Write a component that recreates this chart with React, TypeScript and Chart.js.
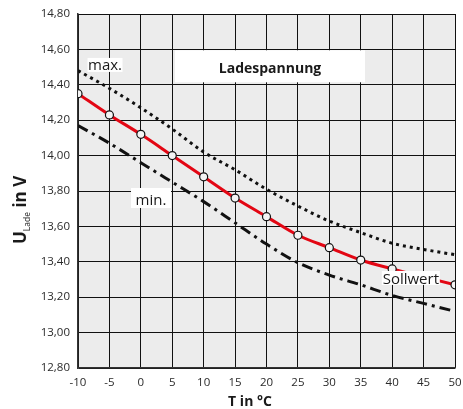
import React, { useEffect, useRef } from "react";
import { Chart, registerables } from "chart.js";

Chart.register(...registerables);

// ---- data ----
const temperatures = [-10, -5, 0, 5, 10, 15, 20, 25, 30, 35, 40, 45, 50];
const sollwert = [14.35, 14.23, 14.12, 14.0, 13.88, 13.76, 13.655, 13.55, 13.48, 13.41, 13.36, 13.315, 13.27];
const maxValues = [14.48, 14.38, 14.27, 14.15, 14.02, 13.92, 13.81, 13.715, 13.63, 13.565, 13.505, 13.47, 13.44];
const minValues = [14.17, 14.07, 13.96, 13.85, 13.74, 13.62, 13.5, 13.395, 13.325, 13.27, 13.21, 13.165, 13.12];
const xTicks = [-10, -5, 0, 5, 10, 15, 20, 25, 30, 35, 40, 45, 50];
const yTicks = [12.8, 13.0, 13.2, 13.4, 13.6, 13.8, 14.0, 14.2, 14.4, 14.6, 14.8];

const chartTitle = "Ladespannung";
const xTitle = "T in °C";
const yTitleMain = "U";
const yTitleSub = "Lade";
const yTitleRest = " in V";

// text labels placed in data coordinates (baseline centre)
const labels = [
  { text: "max.", x: -5.7, y: 14.484, font: "15px 'Open Sans'", w: 35, top: 12, bottom: 2 },
  { text: "min.", x: 1.62, y: 13.721, font: "15px 'Open Sans'", w: 40, top: 17, bottom: 3 },
  { text: "Sollwert", x: 42.97, y: 13.275, font: "15px 'Open Sans'", w: 58, top: 13, bottom: 1 },
  { text: chartTitle, x: 20.56, y: 14.465, font: "bold 14px 'Open Sans'", w: 190, top: 23, bottom: 9 },
];

export default function App() {
  const ref = useRef<HTMLCanvasElement>(null);

  useEffect(() => {
    document.body.style.margin = "0";
    const canvas = ref.current;
    if (!canvas) return;

    const bgPlugin = {
      id: "plotBg",
      beforeDraw(chart: any) {
        const { ctx, chartArea: a } = chart;
        ctx.save();
        ctx.fillStyle = "#ececec";
        ctx.fillRect(a.left, a.top, a.right - a.left, a.bottom - a.top);
        ctx.restore();
      },
    };

    const labelPlugin = {
      id: "labels",
      afterDatasetsDraw(chart: any) {
        const { ctx } = chart;
        const xs = chart.scales.x;
        const ys = chart.scales.y;
        ctx.save();
        labels.forEach((l) => {
          const px = xs.getPixelForValue(l.x);
          const py = ys.getPixelForValue(l.y);
          ctx.fillStyle = "#ffffff";
          ctx.fillRect(px - l.w / 2, py - l.top, l.w, l.top + l.bottom);
          ctx.font = l.font;
          ctx.fillStyle = "#1a1a1a";
          ctx.textAlign = "center";
          ctx.textBaseline = "alphabetic";
          ctx.fillText(l.text, px, py);
        });
        ctx.restore();
      },
    };

    const titlePlugin = {
      id: "axisTitles",
      afterDraw(chart: any) {
        const { ctx, chartArea: a } = chart;
        ctx.save();
        ctx.fillStyle = "#1a1a1a";
        // x title
        ctx.font = "bold 14px 'Open Sans'";
        ctx.textAlign = "center";
        ctx.textBaseline = "alphabetic";
        ctx.fillText(xTitle, 250, a.bottom + 38);
        // y title (rotated)
        ctx.translate(26, 244);
        ctx.rotate(-Math.PI / 2);
        ctx.textAlign = "left";
        let x = 0;
        ctx.font = "bold 17px 'Open Sans'";
        ctx.fillText(yTitleMain, x, 0);
        x += ctx.measureText(yTitleMain).width;
        ctx.font = "8.5px 'Open Sans'";
        ctx.fillText(yTitleSub, x, 4);
        x += ctx.measureText(yTitleSub).width;
        ctx.font = "bold 17px 'Open Sans'";
        ctx.fillText(yTitleRest, x, 0);
        ctx.restore();
      },
    };

    const chart = new Chart(canvas, {
      type: "line",
      data: {
        labels: temperatures,
        datasets: [
          {
            label: "max.",
            data: temperatures.map((t, i) => ({ x: t, y: maxValues[i] })),
            borderColor: "#111111",
            borderWidth: 3,
            borderDash: [3, 4],
            pointRadius: 0,
            cubicInterpolationMode: "monotone",
            fill: false,
          },
          {
            label: "min.",
            data: temperatures.map((t, i) => ({ x: t, y: minValues[i] })),
            borderColor: "#111111",
            borderWidth: 3,
            borderDash: [11, 5, 3, 5],
            pointRadius: 0,
            cubicInterpolationMode: "monotone",
            fill: false,
          },
          {
            label: "Sollwert",
            data: temperatures.map((t, i) => ({ x: t, y: sollwert[i] })),
            borderColor: "#e30613",
            borderWidth: 3,
            pointRadius: 4,
            pointBackgroundColor: "#f4f4f4",
            pointBorderColor: "#111111",
            pointBorderWidth: 1.2,
            cubicInterpolationMode: "monotone",
            fill: false,
          },
        ],
      },
      options: {
        animation: false,
        responsive: false,
        devicePixelRatio: 1,
        layout: { padding: { top: 14, right: 8, left: 0, bottom: 0 } },
        plugins: {
          legend: { display: false },
          tooltip: { enabled: false },
          title: { display: false },
        },
        scales: {
          x: {
            type: "linear",
            min: -10,
            max: 50,
            afterBuildTicks: (scale: any) => {
              scale.ticks = xTicks.map((v) => ({ value: v }));
            },
            afterFit: (scale: any) => {
              scale.height = 41;
              scale.paddingLeft = 0;
              scale.paddingRight = 0;
            },
            ticks: {
              padding: 8,
              color: "#2a2a2a",
              font: { family: "'Open Sans'", size: 11.5 },
              callback: (v: any) => String(v),
              maxRotation: 0,
              autoSkip: false,
            },
            grid: { color: "#111111", lineWidth: 1, drawTicks: false },
            border: { color: "#333333", width: 1.5 },
          },
          y: {
            type: "linear",
            min: 12.8,
            max: 14.8,
            afterBuildTicks: (scale: any) => {
              scale.ticks = yTicks.map((v) => ({ value: v }));
            },
            afterFit: (scale: any) => {
              scale.width = 78;
              scale.paddingTop = 0;
              scale.paddingBottom = 0;
            },
            ticks: {
              padding: 8,
              color: "#2a2a2a",
              font: { family: "'Open Sans'", size: 11.5 },
              callback: (v: any) => Number(v).toFixed(2).replace(".", ","),
              autoSkip: false,
            },
            grid: { color: "#111111", lineWidth: 1, drawTicks: false },
            border: { color: "#333333", width: 1.5 },
          },
        },
      },
      plugins: [bgPlugin, labelPlugin, titlePlugin],
    } as any);

    return () => chart.destroy();
  }, []);

  return <canvas ref={ref} width={463} height={409} style={{ display: "block" }} />;
}
